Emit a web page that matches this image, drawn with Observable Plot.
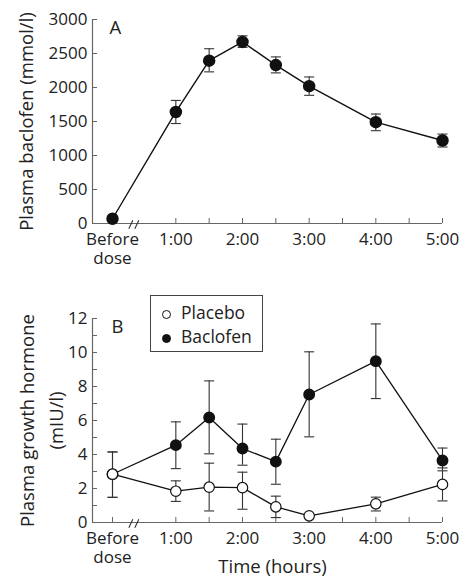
<!DOCTYPE html>
<html>
<head>
<meta charset="utf-8">
<script src="https://cdn.jsdelivr.net/npm/d3@7"></script>
<script src="https://cdn.jsdelivr.net/npm/@observablehq/plot@0.6"></script>
<style>
  html, body { margin: 0; padding: 0; background: #fff; }
  #wrap { position: relative; width: 463px; height: 578px; font-family: "Open Sans", sans-serif; color: #222; }
  #panelA { position: absolute; left: 0; top: 0; }
  #panelB { position: absolute; left: 0; top: 290px; }
  #legend { position: absolute; left: 150px; top: 295px; width: 113px; height: 57px; box-sizing: border-box; border: 1px solid #444; background: #fff; }
  #legend .sw { position: absolute; width: 9px; height: 9px; border-radius: 50%; box-sizing: border-box; border: 1px solid #111; }
  #legend .lbl { position: absolute; font-size: 17.5px; line-height: 1; white-space: nowrap; color: #222; }
</style>
</head>
<body>
<div id="wrap">
  <div id="panelA"></div>
  <div id="panelB"></div>
  <div id="legend">
    <span class="sw" style="left:11px;top:14px;background:#fff"></span>
    <span class="lbl" style="left:30px;top:7.5px">Placebo</span>
    <span class="sw" style="left:11px;top:38px;background:#111"></span>
    <span class="lbl" style="left:30px;top:31.5px">Baclofen</span>
  </div>
</div>
<script>
// ---------- data ----------
const timePos = [0.05, 1, 1.5, 2, 2.5, 3, 4, 5];           // sampling times (h); "Before dose" placed just after 0
const tickPos = [0.05, 1, 1.5, 2, 2.5, 3, 3.5, 4, 4.5, 5];
const tickLabels = new Map([[0.05, "Before\ndose"], [1, "1:00"], [2, "2:00"], [3, "3:00"], [4, "4:00"], [5, "5:00"]]);
const breakPos = [0.37];

// Panel A: plasma baclofen (mmol/l), mean with error bar ends
const baclofenPlasma   = [70, 1640, 2395, 2670, 2330, 2020, 1490, 1220];
const baclofenPlasmaHi = [70, 1810, 2570, 2760, 2450, 2155, 1610, 1315];
const baclofenPlasmaLo = [70, 1470, 2230, 2590, 2215, 1885, 1365, 1125];
const yTicksA = [0, 500, 1000, 1500, 2000, 2500, 3000];

// Panel B: plasma growth hormone (mIU/l)
const ghBaclofen   = [2.84, 4.55, 6.18, 4.35, 3.58, 7.53, 9.49, 3.65];
const ghBaclofenHi = [4.15, 5.92, 8.33, 5.79, 4.90, 10.04, 11.68, 4.38];
const ghBaclofenLo = [1.48, 3.17, 4.04, 3.37, 2.25, 5.04, 7.29, 3.04];
const ghPlacebo    = [2.84, 1.84, 2.08, 2.05, 0.92, 0.39, 1.10, 2.24];
const ghPlaceboHi  = [4.15, 2.45, 3.49, 2.96, 1.55, 0.39, 1.49, 3.21];
const ghPlaceboLo  = [1.48, 1.24, 0.68, 0.78, 0.29, 0.39, 0.68, 1.27];
const yTicksB = [0, 1, 2, 3, 4, 5, 6, 7, 8, 9, 10, 11, 12];

// ---------- helpers ----------
const FONT = '"Open Sans", sans-serif';
const AXIS = "#666";
const INK = "#111";
const xDomain = [-0.25, 5];
const cap = { draw(ctx, size) { const r = Math.sqrt(size / Math.PI); ctx.moveTo(-r, 0); ctx.lineTo(r, 0); } };
// axis-break glyph: two short slashes
const slashes = { draw(ctx, size) {
  const r = Math.sqrt(size / Math.PI);
  ctx.moveTo(-r, 0.85 * r); ctx.lineTo(-0.2 * r, -0.85 * r);
  ctx.moveTo(0.2 * r, 0.85 * r); ctx.lineTo(r, -0.85 * r);
} };

const rows = (mean, lo, hi) => timePos.map((t, i) => ({ t, v: mean[i], lo: lo[i], hi: hi[i] }));
const rowsA = rows(baclofenPlasma, baclofenPlasmaLo, baclofenPlasmaHi);
const rowsBB = rows(ghBaclofen, ghBaclofenLo, ghBaclofenHi);
const rowsBP = rows(ghPlacebo, ghPlaceboLo, ghPlaceboHi);

function errMarks(data, r) {
  const d = data.filter(e => e.hi > e.lo);
  return [
    Plot.ruleX(d, { x: "t", y1: "lo", y2: "hi", stroke: "#333", strokeWidth: 1.1 }),
    Plot.dot(d, { x: "t", y: "hi", symbol: cap, r, stroke: "#333", strokeWidth: 1.1 }),
    Plot.dot(d, { x: "t", y: "lo", symbol: cap, r, stroke: "#333", strokeWidth: 1.1 })
  ];
}

function frameMarks(yTicks, yFmt) {
  return [
    Plot.ruleX([xDomain[0]], { stroke: AXIS, strokeWidth: 1.2 }),
    Plot.ruleY([0], { stroke: AXIS, strokeWidth: 1.2 }),
    Plot.axisY({ ticks: yTicks, tickSize: -5, tickPadding: 10, tickFormat: yFmt, label: null, stroke: AXIS, fill: "#222", fontSize: 17 }),
    Plot.axisX({ ticks: tickPos, tickSize: -5, tickPadding: 13, tickFormat: d => tickLabels.get(d) ?? "", label: null, stroke: AXIS, fill: "#222", fontSize: 17, lineHeight: 1.12 }),
    Plot.dot(breakPos, { x: d => d, frameAnchor: "bottom", symbol: slashes, r: 5, stroke: "#333", strokeWidth: 1.1, dy: 1 })
  ];
}

// ---------- Panel A ----------
const chartA = Plot.plot({
  width: 463, height: 280,
  marginLeft: 92, marginRight: 21, marginTop: 19, marginBottom: 57,
  style: { fontFamily: FONT, fontSize: "17px", color: "#222", background: "transparent", overflow: "visible" },
  x: { domain: xDomain, axis: null },
  y: { domain: [0, 3000], axis: null },
  marks: [
    ...frameMarks(yTicksA, d => String(d)),
    Plot.line(rowsA, { x: "t", y: "v", stroke: INK, strokeWidth: 1.4 }),
    ...errMarks(rowsA, 5),
    Plot.dot(rowsA, { x: "t", y: "v", r: 5.5, fill: INK, stroke: INK }),
    Plot.text(["A"], { frameAnchor: "top-left", text: d => d, dx: 17, dy: 1, fontSize: 18.5, textAnchor: "start", fill: "#222" }),
    Plot.text(["Plasma baclofen (mmol/l)"], { frameAnchor: "left", text: d => d, rotate: -90, dx: -65, fontSize: 18.5, textAnchor: "middle", lineAnchor: "middle", fill: "#222" })
  ]
});
document.getElementById("panelA").append(chartA);

// ---------- Panel B ----------
const chartB = Plot.plot({
  width: 463, height: 288,
  marginLeft: 92, marginRight: 21, marginTop: 28, marginBottom: 56,
  style: { fontFamily: FONT, fontSize: "17px", color: "#222", background: "transparent", overflow: "visible" },
  x: { domain: xDomain, axis: null },
  y: { domain: [0, 12], axis: null },
  marks: [
    ...frameMarks(yTicksB, d => (d % 2 === 0 ? String(d) : "")),
    Plot.line(rowsBB, { x: "t", y: "v", stroke: INK, strokeWidth: 1.3 }),
    Plot.line(rowsBP, { x: "t", y: "v", stroke: INK, strokeWidth: 1.3 }),
    ...errMarks(rowsBB, 5),
    ...errMarks(rowsBP, 5),
    Plot.dot(rowsBB, { x: "t", y: "v", r: 5.2, fill: INK, stroke: INK }),
    Plot.dot(rowsBP, { x: "t", y: "v", r: 5.2, fill: "white", stroke: INK, strokeWidth: 1.2 }),
    Plot.text(["B"], { frameAnchor: "top-left", text: d => d, dx: 19, dy: 1, fontSize: 18.5, textAnchor: "start", fill: "#222" }),
    Plot.text(["Plasma growth hormone\n(mIU/l)"], { frameAnchor: "left", text: d => d, rotate: -90, dx: -53, fontSize: 18.5, lineHeight: 1.55, textAnchor: "middle", lineAnchor: "middle", fill: "#222" }),
    Plot.text(["Time (hours)"], { frameAnchor: "bottom", text: d => d, x: () => 2.45, lineAnchor: "bottom", dy: 50, fontSize: 18.5, fill: "#222" })
  ]
});
document.getElementById("panelB").append(chartB);
</script>
</body>
</html>
